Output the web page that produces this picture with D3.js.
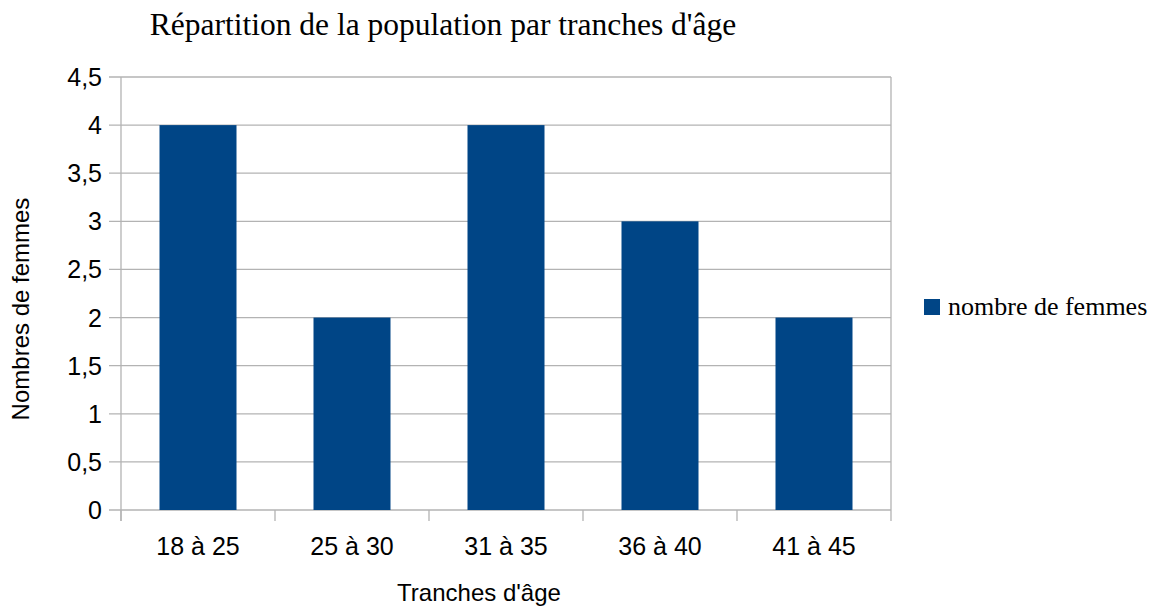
<!DOCTYPE html>
<html>
<head>
<meta charset="utf-8">
<script src="https://cdn.jsdelivr.net/npm/d3@7"></script>
<style>
  body { margin: 0; background: #fff; }
  svg { display: block; }
</style>
</head>
<body>
<div id="chart"></div>
<script>
// ===========Data
var categories = ["18 à 25", "25 à 30", "31 à 35", "36 à 40", "41 à 45"];
var values = [4, 2, 4, 3, 2];
var yTicks = [0, 0.5, 1, 1.5, 2, 2.5, 3, 3.5, 4, 4.5];
var seriesName = "nombre de femmes";

// ===========Set Height, Width and Margins
var svgWidth = 1162;
var svgHeight = 607;
var margin = { top: 77, right: 271, bottom: 97, left: 121 };
var width = svgWidth - margin.left - margin.right;
var height = svgHeight - margin.top - margin.bottom;

var svg = d3.select("#chart").append("svg")
    .attr("width", svgWidth)
    .attr("height", svgHeight);

var chartGroup = svg.append("g")
    .attr("transform", `translate(${margin.left}, ${margin.top})`);

// ==========Scales
var xScale = d3.scaleBand()
    .domain(categories)
    .range([0, width])
    .paddingInner(0.5)
    .paddingOuter(0.25);

var yScale = d3.scaleLinear()
    .domain([0, 4.5])
    .range([height, 0]);

var grey = "#b3b3b3";

// ==========Gridlines + left ticks
chartGroup.append("g").selectAll("line")
    .data(yTicks)
    .enter()
    .append("line")
    .attr("x1", -12)
    .attr("x2", width)
    .attr("y1", d => yScale(d))
    .attr("y2", d => yScale(d))
    .attr("stroke", grey)
    .attr("stroke-width", 1.3);

// right border
chartGroup.append("line")
    .attr("x1", width).attr("x2", width)
    .attr("y1", 0).attr("y2", height)
    .attr("stroke", grey).attr("stroke-width", 1.3);

// left axis line
chartGroup.append("line")
    .attr("x1", 0).attr("x2", 0)
    .attr("y1", 0).attr("y2", height + 11)
    .attr("stroke", grey).attr("stroke-width", 1.3);

// x ticks at category boundaries
var gap = xScale.step() - xScale.bandwidth();
var bounds = categories.map(c => xScale(c) - gap / 2).concat([width]);
chartGroup.append("g").selectAll("line")
    .data(bounds)
    .enter()
    .append("line")
    .attr("x1", d => d).attr("x2", d => d)
    .attr("y1", height).attr("y2", height + 11)
    .attr("stroke", grey).attr("stroke-width", 1.3);

// ===========Bars
chartGroup.selectAll("rect.bar")
    .data(values)
    .enter()
    .append("rect")
    .attr("class", "bar")
    .attr("x", (d, i) => xScale(categories[i]))
    .attr("y", d => yScale(d))
    .attr("width", xScale.bandwidth())
    .attr("height", d => height - yScale(d))
    .attr("fill", "#004586");

// ===========Tick labels
var sans = "'Liberation Sans', Arial, sans-serif";
var serif = "'Liberation Serif', 'Times New Roman', serif";

chartGroup.append("g").selectAll("text")
    .data(yTicks)
    .enter()
    .append("text")
    .attr("x", -19)
    .attr("y", d => yScale(d))
    .attr("dy", "0.36em")
    .attr("text-anchor", "end")
    .style("font-family", sans)
    .style("font-size", "25px")
    .attr("fill", "#000")
    .text(d => String(d).replace(".", ","));

chartGroup.append("g").selectAll("text")
    .data(categories)
    .enter()
    .append("text")
    .attr("x", d => xScale(d) + xScale.bandwidth() / 2)
    .attr("y", height + 45)
    .attr("text-anchor", "middle")
    .style("font-family", sans)
    .style("font-size", "25px")
    .attr("fill", "#000")
    .text(d => d);

// ===========Axis titles
svg.append("text")
    .attr("x", 479)
    .attr("y", 601)
    .attr("text-anchor", "middle")
    .style("font-family", sans)
    .style("font-size", "24px")
    .text("Tranches d'âge");

svg.append("text")
    .attr("transform", "translate(29, 309) rotate(-90)")
    .attr("text-anchor", "middle")
    .style("font-family", sans)
    .style("font-size", "24px")
    .text("Nombres de femmes");

// ===========Title
svg.append("text")
    .attr("x", 443)
    .attr("y", 35)
    .attr("text-anchor", "middle")
    .style("font-family", serif)
    .style("font-size", "31.5px")
    .text("Répartition de la population par tranches d'âge");

// ===========Legend
var legend = svg.append("g")
    .attr("transform", "translate(924, 299)");
legend.append("rect")
    .attr("width", 16).attr("height", 16)
    .attr("fill", "#004586");
legend.append("text")
    .attr("x", 24)
    .attr("y", 16)
    .style("font-family", serif)
    .style("font-size", "26px")
    .text(seriesName);
</script>
</body>
</html>
